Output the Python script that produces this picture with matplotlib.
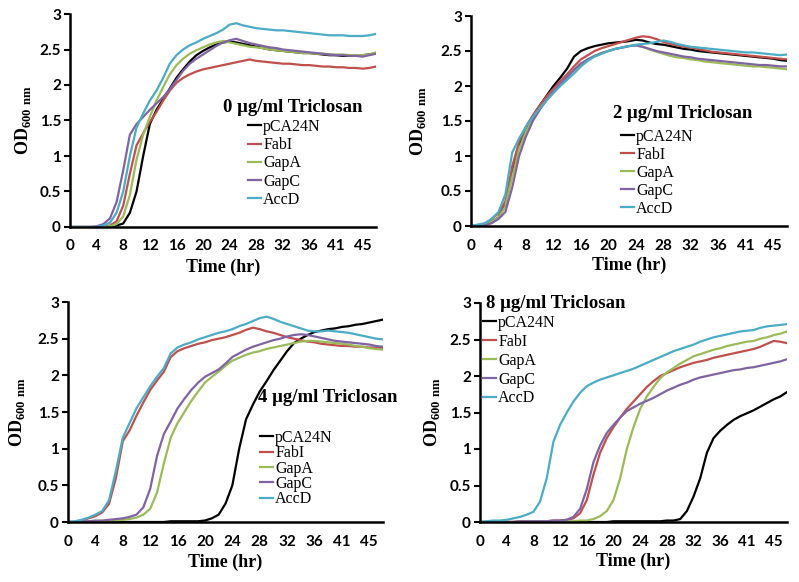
import matplotlib
matplotlib.use("Agg")
import matplotlib.pyplot as plt

plt.rcParams['mathtext.fontset'] = 'custom'
plt.rcParams['mathtext.rm'] = 'Liberation Serif'
plt.rcParams['mathtext.bf'] = 'Liberation Serif:bold'

hours = list(range(47))
tick_pos = [0, 4, 8, 12, 16, 20, 24, 28, 32, 36, 40, 44]
tick_lab = ['0', '4', '8', '12', '16', '20', '24', '28', '32', '36', '41', '45']
names = ['pCA24N', 'FabI', 'GapA', 'GapC', 'AccD']
colors = ['#000000', '#C0504D', '#9BBB59', '#8064A2', '#4BACC6']
titles = ['0 μg/ml Triclosan', '2 μg/ml Triclosan', '4 μg/ml Triclosan', '8 μg/ml Triclosan']

# 0 ug/ml
d0_pca = [0, 0, 0, 0, 0, 0, 0.01, 0.02, 0.05, 0.2, 0.5, 1.0, 1.45, 1.65, 1.8, 1.95, 2.1, 2.22, 2.33, 2.42, 2.48, 2.53, 2.57, 2.6, 2.61, 2.6, 2.58, 2.56, 2.54, 2.52, 2.5, 2.49, 2.48, 2.47, 2.46, 2.45, 2.45, 2.44, 2.43, 2.42, 2.42, 2.41, 2.41, 2.41, 2.42, 2.43, 2.45]
d0_fabi = [0, 0, 0, 0, 0, 0, 0.02, 0.08, 0.3, 0.75, 1.15, 1.32, 1.48, 1.62, 1.78, 1.92, 2.03, 2.1, 2.15, 2.19, 2.22, 2.24, 2.26, 2.28, 2.3, 2.32, 2.34, 2.36, 2.34, 2.33, 2.32, 2.31, 2.3, 2.3, 2.29, 2.28, 2.28, 2.27, 2.26, 2.26, 2.25, 2.25, 2.24, 2.24, 2.23, 2.24, 2.26]
d0_gapa = [0, 0, 0, 0, 0, 0, 0.01, 0.04, 0.15, 0.45, 0.95, 1.3, 1.55, 1.78, 1.97, 2.15, 2.28, 2.37, 2.44, 2.49, 2.53, 2.57, 2.6, 2.62, 2.6, 2.58, 2.56, 2.54, 2.53, 2.52, 2.5, 2.49, 2.48, 2.47, 2.46, 2.45, 2.45, 2.44, 2.44, 2.43, 2.43, 2.43, 2.42, 2.42, 2.42, 2.43, 2.46]
d0_gapc = [0, 0, 0, 0, 0.01, 0.04, 0.12, 0.35, 0.8, 1.3, 1.45, 1.55, 1.65, 1.74, 1.83, 1.94, 2.07, 2.2, 2.3, 2.37, 2.43, 2.49, 2.55, 2.6, 2.63, 2.65, 2.62, 2.59, 2.57, 2.55, 2.53, 2.52, 2.5, 2.49, 2.48, 2.47, 2.46, 2.45, 2.44, 2.43, 2.42, 2.42, 2.41, 2.41, 2.4, 2.42, 2.44]
d0_accd = [0, 0, 0, 0, 0, 0.02, 0.06, 0.2, 0.5, 1.0, 1.4, 1.6, 1.78, 1.92, 2.1, 2.3, 2.42, 2.5, 2.56, 2.6, 2.65, 2.69, 2.73, 2.78, 2.85, 2.87, 2.84, 2.82, 2.8, 2.79, 2.78, 2.77, 2.77, 2.76, 2.75, 2.74, 2.73, 2.72, 2.71, 2.7, 2.7, 2.7, 2.69, 2.69, 2.69, 2.7, 2.72]

# 2 ug/ml
d2_pca = [0, 0, 0.02, 0.06, 0.12, 0.3, 0.75, 1.15, 1.4, 1.57, 1.72, 1.86, 2.0, 2.12, 2.25, 2.42, 2.5, 2.54, 2.57, 2.59, 2.61, 2.62, 2.63, 2.64, 2.66, 2.65, 2.62, 2.6, 2.59, 2.57, 2.55, 2.53, 2.52, 2.5, 2.49, 2.48, 2.47, 2.46, 2.45, 2.44, 2.43, 2.42, 2.41, 2.4, 2.39, 2.37, 2.36]
d2_fabi = [0, 0, 0.03, 0.1, 0.18, 0.35, 0.85, 1.2, 1.42, 1.58, 1.72, 1.85, 1.96, 2.07, 2.17, 2.28, 2.38, 2.44, 2.5, 2.54, 2.57, 2.6, 2.63, 2.66, 2.69, 2.71, 2.7, 2.67, 2.63, 2.6, 2.58, 2.56, 2.55, 2.53, 2.51, 2.49, 2.48, 2.47, 2.46, 2.45, 2.44, 2.43, 2.42, 2.41, 2.4, 2.39, 2.38]
d2_gapa = [0, 0, 0.02, 0.06, 0.12, 0.28, 0.7, 1.1, 1.35, 1.53, 1.68, 1.8, 1.92, 2.03, 2.13, 2.23, 2.32, 2.38, 2.43, 2.47, 2.5, 2.53, 2.55, 2.57, 2.58, 2.56, 2.52, 2.49, 2.46, 2.43, 2.41, 2.4, 2.38, 2.37, 2.35, 2.34, 2.33, 2.32, 2.31, 2.3, 2.29, 2.28, 2.28, 2.27, 2.26, 2.25, 2.24]
d2_gapc = [0, 0, 0.01, 0.04, 0.1, 0.2, 0.55, 1.0, 1.28, 1.5, 1.66, 1.8, 1.92, 2.03, 2.13, 2.23, 2.32, 2.38, 2.43, 2.47, 2.5, 2.53, 2.55, 2.57, 2.58, 2.56, 2.53, 2.5, 2.48, 2.46, 2.44, 2.42, 2.41, 2.39, 2.38, 2.37, 2.36, 2.35, 2.34, 2.33, 2.32, 2.31, 2.3, 2.3, 2.29, 2.28, 2.28]
d2_accd = [0, 0.02, 0.04, 0.1, 0.2, 0.45, 1.05, 1.25, 1.42, 1.56, 1.68, 1.79, 1.9, 2.0, 2.09, 2.18, 2.28, 2.36, 2.42, 2.46, 2.5, 2.53, 2.55, 2.57, 2.59, 2.6, 2.61, 2.63, 2.65, 2.63, 2.6, 2.58, 2.56, 2.55, 2.54, 2.53, 2.52, 2.51, 2.5, 2.49, 2.48, 2.48, 2.47, 2.46, 2.45, 2.44, 2.45]

# 4 ug/ml
d4_pca = [0, 0, 0, 0, 0, 0, 0, 0, 0, 0, 0, 0, 0, 0, 0, 0.01, 0.01, 0.01, 0.01, 0.01, 0.02, 0.05, 0.1, 0.25, 0.5, 1.0, 1.4, 1.6, 1.78, 1.92, 2.07, 2.2, 2.33, 2.44, 2.5, 2.55, 2.59, 2.61, 2.63, 2.64, 2.66, 2.67, 2.69, 2.7, 2.72, 2.74, 2.76]
d4_fabi = [0, 0, 0.02, 0.05, 0.08, 0.13, 0.25, 0.6, 1.1, 1.25, 1.45, 1.63, 1.8, 1.93, 2.05, 2.25, 2.33, 2.37, 2.4, 2.43, 2.45, 2.48, 2.5, 2.52, 2.55, 2.58, 2.62, 2.65, 2.63, 2.6, 2.58, 2.55, 2.52, 2.5, 2.48, 2.46, 2.45, 2.43, 2.42, 2.41, 2.4, 2.4, 2.39, 2.39, 2.38, 2.38, 2.37]
d4_gapa = [0, 0, 0, 0.01, 0.01, 0.01, 0.02, 0.02, 0.03, 0.04, 0.06, 0.1, 0.18, 0.4, 0.8, 1.15, 1.35, 1.5, 1.65, 1.78, 1.9, 1.98, 2.05, 2.13, 2.2, 2.24, 2.28, 2.31, 2.33, 2.36, 2.38, 2.4, 2.42, 2.44, 2.46, 2.47, 2.47, 2.46, 2.45, 2.44, 2.43, 2.42, 2.4, 2.39, 2.37, 2.36, 2.35]
d4_gapc = [0, 0, 0.01, 0.01, 0.02, 0.02, 0.03, 0.04, 0.05, 0.07, 0.1, 0.2, 0.45, 0.9, 1.2, 1.37, 1.55, 1.68, 1.8, 1.9, 1.98, 2.03, 2.08, 2.16, 2.25, 2.3, 2.35, 2.39, 2.42, 2.45, 2.48, 2.5, 2.53, 2.55, 2.56, 2.55, 2.53, 2.51, 2.49, 2.47, 2.46, 2.45, 2.44, 2.43, 2.42, 2.4, 2.39]
d4_accd = [0, 0.01, 0.03, 0.06, 0.1, 0.15, 0.3, 0.7, 1.15, 1.35, 1.55, 1.7, 1.85, 1.98, 2.1, 2.3, 2.38, 2.42, 2.45, 2.49, 2.52, 2.55, 2.58, 2.6, 2.63, 2.67, 2.7, 2.74, 2.78, 2.8, 2.77, 2.73, 2.7, 2.67, 2.64, 2.61, 2.6, 2.6, 2.61, 2.6, 2.59, 2.58, 2.56, 2.54, 2.52, 2.5, 2.49]

# 8 ug/ml
d8_pca = [0, 0, 0, 0, 0, 0, 0, 0, 0, 0, 0, 0, 0, 0, 0, 0, 0, 0, 0, 0, 0.01, 0.01, 0.01, 0.01, 0.01, 0.01, 0.01, 0.01, 0.02, 0.02, 0.04, 0.15, 0.35, 0.6, 0.95, 1.15, 1.25, 1.33, 1.4, 1.45, 1.49, 1.53, 1.58, 1.63, 1.68, 1.72, 1.78]
d8_fabi = [0, 0, 0, 0, 0, 0, 0.01, 0.01, 0.01, 0.01, 0.01, 0.02, 0.02, 0.03, 0.05, 0.12, 0.3, 0.65, 0.95, 1.15, 1.3, 1.43, 1.55, 1.65, 1.75, 1.85, 1.93, 2.0, 2.04, 2.08, 2.12, 2.15, 2.18, 2.2, 2.22, 2.25, 2.27, 2.29, 2.31, 2.33, 2.35, 2.37, 2.4, 2.44, 2.48, 2.47, 2.45]
d8_gapa = [0, 0, 0, 0, 0, 0, 0, 0, 0.01, 0.01, 0.01, 0.01, 0.01, 0.01, 0.01, 0.02, 0.02, 0.04, 0.08, 0.15, 0.3, 0.6, 1.0, 1.3, 1.55, 1.72, 1.85, 1.97, 2.05, 2.11, 2.17, 2.22, 2.27, 2.3, 2.33, 2.36, 2.38, 2.41, 2.43, 2.45, 2.47, 2.48, 2.51, 2.53, 2.56, 2.58, 2.61]
d8_gapc = [0, 0, 0, 0, 0, 0, 0.01, 0.01, 0.01, 0.01, 0.01, 0.02, 0.02, 0.03, 0.07, 0.18, 0.45, 0.82, 1.05, 1.22, 1.33, 1.43, 1.52, 1.57, 1.62, 1.66, 1.7, 1.75, 1.8, 1.84, 1.88, 1.91, 1.95, 1.98, 2.0, 2.02, 2.04, 2.06, 2.08, 2.09, 2.11, 2.12, 2.14, 2.16, 2.18, 2.2, 2.23]
d8_accd = [0, 0.01, 0.02, 0.02, 0.03, 0.05, 0.07, 0.1, 0.14, 0.28, 0.6, 1.1, 1.33, 1.5, 1.65, 1.77, 1.86, 1.91, 1.95, 1.98, 2.01, 2.04, 2.07, 2.1, 2.14, 2.18, 2.22, 2.26, 2.3, 2.34, 2.37, 2.4, 2.43, 2.47, 2.5, 2.53, 2.55, 2.57, 2.59, 2.61, 2.62, 2.63, 2.66, 2.68, 2.69, 2.7, 2.71]

panels = [
    [d0_pca, d0_fabi, d0_gapa, d0_gapc, d0_accd],
    [d2_pca, d2_fabi, d2_gapa, d2_gapc, d2_accd],
    [d4_pca, d4_fabi, d4_gapa, d4_gapc, d4_accd],
    [d8_pca, d8_fabi, d8_gapa, d8_gapc, d8_accd],
]

W, H = 799, 582
# axes boxes in pixels: left, top, right, bottom
boxes = [(70, 14, 376, 227), (471, 16, 787, 226), (68, 302, 383, 522), (480, 303, 787, 522)]
title_xy = [(223, 108), (613, 113), (258, 397), (486, 303)]
leg_xy = [(248, 119), (621, 129), (260, 430), (483, 315)]
leg_sp = [0.14, 0.12, -0.04, 0.18]
ylab_x = [-0.122, -0.135, -0.13, -0.125]
xlab_y = [-0.148, -0.148, -0.142, -0.142]

fig = plt.figure(figsize=(W / 100, H / 100), dpi=100)

for i in range(4):
    l, t, r, b = boxes[i]
    ax = fig.add_axes([l / W, 1 - b / H, (r - l) / W, (b - t) / H])
    for s, c, n in zip(panels[i], colors, names):
        ax.plot(hours, s, color=c, lw=1.6, label=n)
    ax.set_xlim(0, 46)
    ax.set_ylim(0, 3)
    ax.set_yticks([0, 0.5, 1, 1.5, 2, 2.5, 3])
    ax.set_yticklabels(['0', '0.5', '1', '1.5', '2', '2.5', '3'])
    ax.set_xticks(tick_pos)
    ax.set_xticklabels(tick_lab)
    for lab in ax.get_xticklabels() + ax.get_yticklabels():
        lab.set_fontfamily('Lato')
        lab.set_fontweight('bold')
        lab.set_fontsize(11)
    ax.tick_params(axis='x', length=0, pad=9)
    ax.tick_params(axis='y', length=4, width=1.5, direction='out', pad=2.5)
    ax.spines['top'].set_visible(False)
    ax.spines['right'].set_visible(False)
    ax.spines['left'].set_linewidth(1.8)
    ax.spines['bottom'].set_linewidth(1.8)
    ax.set_xlabel('Time (hr)', fontfamily='Liberation Serif', fontweight='bold', fontsize=13)
    ax.set_ylabel(r'OD$_{\mathbf{600\ nm}}$', fontfamily='Liberation Serif', fontweight='bold', fontsize=13)
    ax.xaxis.set_label_coords(0.5, xlab_y[i])
    ax.yaxis.set_label_coords(ylab_x[i], 0.5)
    fig.text(title_xy[i][0] / W, 1 - title_xy[i][1] / H, titles[i], fontfamily='Liberation Serif',
             fontweight='bold', fontsize=13.5, va='center', ha='left')
    ax.legend(loc='upper left', bbox_to_anchor=(leg_xy[i][0] / W, 1 - leg_xy[i][1] / H),
              bbox_transform=fig.transFigure, frameon=False, borderpad=0, borderaxespad=0,
              handlelength=0.8, handletextpad=0.15, labelspacing=leg_sp[i],
              prop={'family': 'Liberation Serif', 'size': 11.5})

fig.savefig('out.png', dpi=100, facecolor='white')
